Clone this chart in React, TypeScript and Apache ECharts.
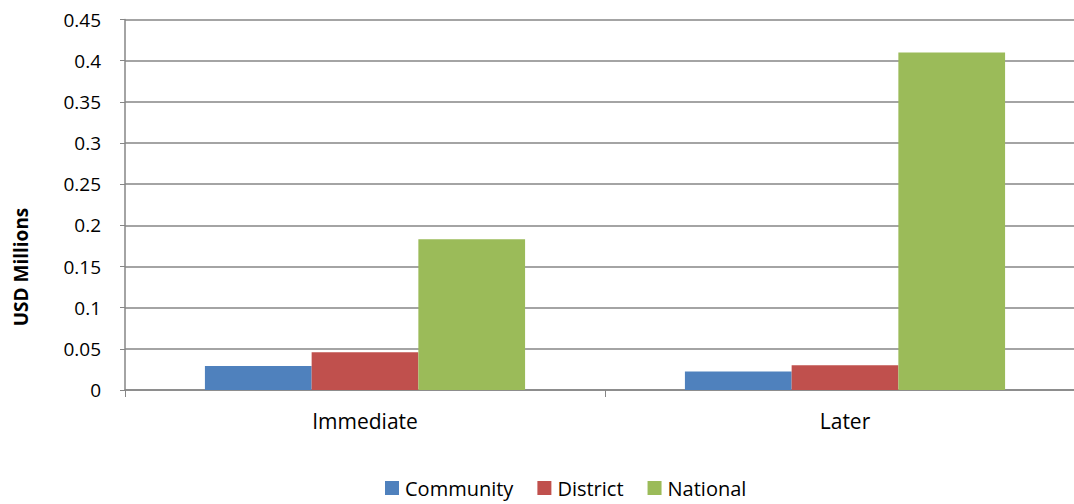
import React, { useEffect, useRef } from "react";
import * as echarts from "echarts";

const categories = ["Immediate", "Later"];
const seriesNames = ["Community", "District", "National"];
const community = [0.029, 0.0225];
const district = [0.046, 0.030];
const national = [0.183, 0.41];
const colors = ["#4F81BD", "#C0504D", "#9BBB59"];
const FONT = "'Open Sans', 'Liberation Sans', sans-serif";

export default function App() {
  const ref = useRef<HTMLDivElement>(null);
  useEffect(() => {
    if (!ref.current) return;
    document.body.style.overflow = "hidden";
    const chart = echarts.init(ref.current, undefined, { renderer: "svg" });
    const values = [community, district, national];
    chart.setOption({
      animation: false,
      backgroundColor: "#ffffff",
      textStyle: { fontFamily: FONT },
      grid: {
        left: 125,
        top: 19.5,
        width: 960,
        height: 370.5,
        containLabel: false,
        outerBoundsMode: "none",
      },
      legend: {
        top: 478,
        left: 385,
        itemWidth: 14,
        itemHeight: 14,
        itemGap: 24,
        icon: "rect",
        padding: 0,
        textStyle: {
          fontSize: 20,
          lineHeight: 20,
          color: "#000",
          fontFamily: FONT,
          padding: [0, 0, 0, 1],
        },
        data: seriesNames,
      },
      graphic: [
        {
          type: "text",
          x: 21,
          y: 267,
          rotation: Math.PI / 2,
          style: {
            text: "USD Millions",
            font: `bold 19px ${FONT}`,
            fill: "#000",
            align: "center",
            verticalAlign: "middle",
          },
        },
      ],
      xAxis: {
        type: "category",
        data: categories,
        axisLine: { show: true, lineStyle: { color: "#868686", width: 1.5 } },
        axisTick: { show: true, length: 7, lineStyle: { color: "#868686" } },
        axisLabel: { fontSize: 21, color: "#000", margin: 20, fontFamily: FONT },
      },
      yAxis: {
        type: "value",
        min: 0,
        max: 0.45,
        interval: 0.05,
        axisLine: { show: true, lineStyle: { color: "#868686", width: 1.5 } },
        axisTick: { show: true, length: 5, lineStyle: { color: "#868686" } },
        splitLine: { lineStyle: { color: "#868686", width: 1.5 } },
        axisLabel: {
          fontSize: 19,
          color: "#000",
          margin: 24,
          fontFamily: FONT,
          formatter: (v: number) => String(parseFloat(v.toFixed(2))),
        },
      },
      series: seriesNames.map((name, i) => ({
        name,
        type: "bar",
        data: values[i],
        barGap: "0%",
        barCategoryGap: "33.3%",
        itemStyle: { color: colors[i] },
      })),
    });
    return () => chart.dispose();
  }, []);
  return (
    <div
      ref={ref}
      style={{ position: "fixed", left: 0, top: 0, width: 1074, height: 504 }}
    />
  );
}
